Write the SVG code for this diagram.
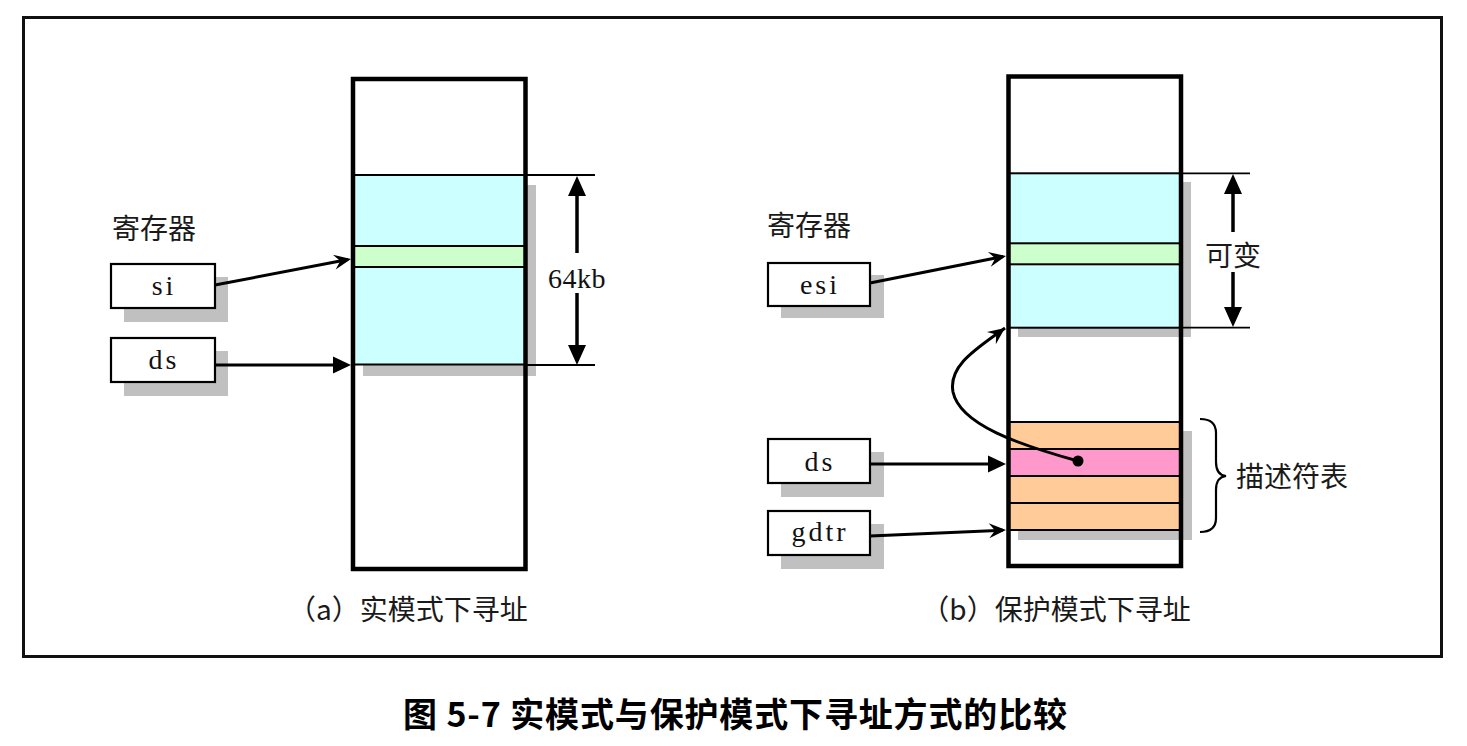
<svg xmlns="http://www.w3.org/2000/svg" width="1467" height="746" viewBox="0 0 1467 746">
<style>
.cjk{font-family:"Noto Sans CJK SC","Liberation Serif",sans-serif;fill:#1a1a1a;font-size:28px}
.lat{font-family:"Liberation Serif",serif;fill:#111;font-size:28px;letter-spacing:3px}
.box{fill:#fff;stroke:#000;stroke-width:2.2}
.shd{fill:#c0c0c0}
.col{fill:none;stroke:#000;stroke-width:4.5}
.band{stroke:#000;stroke-width:2}
.ln{stroke:#000;stroke-width:3;fill:none}
.thin{stroke:#000;stroke-width:1.8}
</style>
<defs>
<marker id="barb" markerUnits="userSpaceOnUse" orient="auto" refX="-3" refY="0" markerWidth="20" markerHeight="20" overflow="visible">
<path d="M0,0 L-17,-7.5 L-11,0 L-17,7.5 Z" fill="#000"/>
</marker>
<marker id="barb0" markerUnits="userSpaceOnUse" orient="auto" refX="0" refY="0" markerWidth="20" markerHeight="20" overflow="visible">
<path d="M0,0 L-17,-7.5 L-11,0 L-17,7.5 Z" fill="#000"/>
</marker>
<marker id="tri" markerUnits="userSpaceOnUse" orient="auto" refX="-4" refY="0" markerWidth="20" markerHeight="20" overflow="visible">
<path d="M0,0 L-18,-8.5 L-18,8.5 Z" fill="#000"/>
</marker>
</defs>
<rect width="1467" height="746" fill="#fff"/>
<rect id="frame" x="23.5" y="17.5" width="1418" height="639" fill="none" stroke="#111" stroke-width="3"/>

<g id="memory-a">
<rect x="353" y="79" width="172.5" height="490" fill="#fff"/>
<rect class="shd" x="363" y="185" width="173" height="191"/>
<rect class="band" x="353" y="175" width="172.5" height="189.5" fill="#ccffff"/>
<rect class="band" x="353" y="246" width="172.5" height="21" fill="#ccffcc"/>
<rect class="col" x="353" y="79" width="172.5" height="490"/>
</g>

<g id="dim-a">
<line class="thin" x1="525" y1="175" x2="595" y2="175"/>
<line class="thin" x1="525" y1="365" x2="595" y2="365"/>
<path d="M577,176 L568,196 L586,196 Z M577,365 L568,345 L586,345 Z" fill="#000"/>
<line x1="577" y1="195" x2="577" y2="253" stroke="#000" stroke-width="3.5"/>
<line x1="577" y1="293" x2="577" y2="346" stroke="#000" stroke-width="3.5"/>
<text class="lat" x="577" y="288" text-anchor="middle" style="letter-spacing:0.5px">64kb</text>
</g>

<g id="label-reg-a"><text class="cjk" x="112" y="239">寄存器</text></g>

<g id="reg-si">
<rect class="shd" x="124" y="277" width="104" height="45"/>
<rect class="box" x="111" y="264" width="104" height="44"/>
<text class="lat" x="164" y="295" text-anchor="middle">si</text>
</g>
<g id="reg-ds-a">
<rect class="shd" x="124" y="351" width="104" height="45"/>
<rect class="box" x="111" y="338" width="104" height="44"/>
<text class="lat" x="164" y="369" text-anchor="middle">ds</text>
</g>

<g id="memory-b">
<rect x="1008.5" y="76.5" width="172.5" height="489.5" fill="#fff"/>
<rect class="shd" x="1018" y="182" width="173" height="155"/>
<rect class="band" x="1008.5" y="173.3" width="172.5" height="154.4" fill="#ccffff"/>
<rect class="band" x="1008.5" y="243.3" width="172.5" height="21" fill="#ccffcc"/>
<rect class="shd" x="1018" y="431" width="174" height="109"/>
<rect class="band" x="1008.5" y="422" width="172.5" height="27" fill="#ffcc99"/>
<rect class="band" x="1008.5" y="449" width="172.5" height="27" fill="#ff99cc"/>
<rect class="band" x="1008.5" y="476" width="172.5" height="27" fill="#ffcc99"/>
<rect class="band" x="1008.5" y="503" width="172.5" height="27" fill="#ffcc99"/>
<rect class="col" x="1008.5" y="76.5" width="172.5" height="489.5"/>
</g>

<g id="dim-b">
<line class="thin" x1="1181" y1="173.3" x2="1250" y2="173.3"/>
<line class="thin" x1="1181" y1="327.7" x2="1250" y2="327.7"/>
<path d="M1233,174 L1224,194 L1242,194 Z M1233,327 L1224,307 L1242,307 Z" fill="#000"/>
<line x1="1233" y1="193" x2="1233" y2="232" stroke="#000" stroke-width="3.5"/>
<line x1="1233" y1="272" x2="1233" y2="308" stroke="#000" stroke-width="3.5"/>
<text class="cjk" x="1233" y="266" text-anchor="middle">可变</text>
</g>

<g id="label-reg-b"><text class="cjk" x="767" y="236">寄存器</text></g>

<g id="reg-esi">
<rect class="shd" x="781" y="275" width="103" height="43"/>
<rect class="box" x="768" y="263" width="102" height="43"/>
<text class="lat" x="820" y="294" text-anchor="middle">esi</text>
</g>
<g id="reg-ds-b">
<rect class="shd" x="781" y="452" width="103" height="45"/>
<rect class="box" x="768" y="439" width="102" height="44"/>
<text class="lat" x="820" y="471" text-anchor="middle">ds</text>
</g>
<g id="reg-gdtr">
<rect class="shd" x="781" y="524" width="103" height="45"/>
<rect class="box" x="768" y="511" width="102" height="44"/>
<text class="lat" x="820" y="541" text-anchor="middle">gdtr</text>
</g>

<g id="brace">
<path d="M1200,419 Q1216,419 1216,433 L1216,462 Q1216,475 1226,476 Q1216,477 1216,490 L1216,518 Q1216,532 1200,532" fill="none" stroke="#000" stroke-width="2.2"/>
<text class="cjk" x="1236" y="487">描述符表</text>
</g>

<g id="connectors">
<line class="ln" x1="215" y1="285" x2="348.05" y2="259.56" marker-end="url(#barb)"/>
<line class="ln" x1="215" y1="365" x2="347" y2="365" marker-end="url(#tri)"/>
<line class="ln" x1="870" y1="283" x2="1003.06" y2="256.59" marker-end="url(#barb)"/>
<line class="ln" x1="870" y1="464" x2="1002" y2="464" marker-end="url(#tri)"/>
<line class="ln" x1="870" y1="536" x2="1003" y2="530.13" marker-end="url(#barb)"/>
<path class="ln" d="M1078,461 C1020,445 960,425 953,392 C948,365 978,348 1005,328" marker-end="url(#barb0)"/>
<circle cx="1078" cy="461" r="5.5" fill="#000"/>
</g>

<g id="captions">
<text class="cjk" x="408" y="620" text-anchor="middle">（a）实模式下寻址</text>
<text class="cjk" x="1056" y="620" text-anchor="middle">（b）保护模式下寻址</text>
</g>
<g id="title">
<text x="403" y="727" textLength="664" lengthAdjust="spacing" style="font-family:'Noto Sans CJK SC',sans-serif;font-weight:bold;font-size:34px;fill:#000">图 5-7 实模式与保护模式下寻址方式的比较</text>
</g>
</svg>
